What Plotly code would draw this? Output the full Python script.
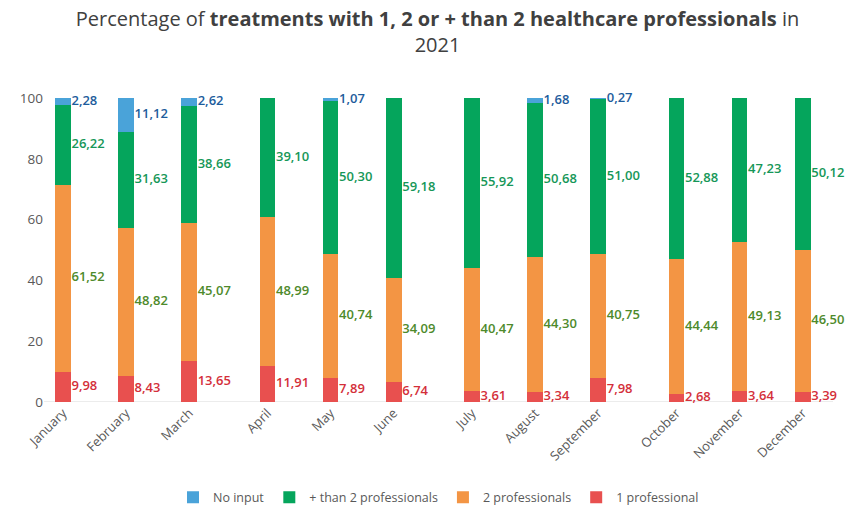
import plotly.graph_objects as go

# monthly shares (%) of treatments by number of healthcare professionals, 2021
months = ['January', 'February', 'March', 'April', 'May', 'June',
          'July', 'August', 'September', 'October', 'November', 'December']
one_prof = [9.98, 8.43, 13.65, 11.91, 7.89, 6.74, 3.61, 3.34, 7.98, 2.68, 3.64, 3.39]
two_prof = [61.52, 48.82, 45.07, 48.99, 40.74, 34.09, 40.47, 44.30, 40.75, 44.44, 49.13, 46.50]
more_prof = [26.22, 31.63, 38.66, 39.10, 50.30, 59.18, 55.92, 50.68, 51.00, 52.88, 47.23, 50.12]
no_input = [2.28, 11.12, 2.62, 0, 1.07, 0, 0, 1.68, 0.27, 0, 0, 0]

# bars are grouped by quarter in the original, with a slightly wider gap between quarters
xpos = [i + 0.24 * (i // 3) for i in range(len(months))]
bar_w = 0.25

series = [
    ('1 professional', one_prof, '#e8504f', '#d42f3a'),
    ('2 professionals', two_prof, '#f39544', '#4e8a2b'),
    ('+ than 2 professionals', more_prof, '#05a55c', '#169758'),
    ('No input', no_input, '#4aa3d9', '#1d5c9c'),
]

fig = go.Figure()

base = [0.0] * len(months)
for name, vals, color, lab_color in series:
    fig.add_trace(go.Bar(
        x=xpos, y=vals, name=name, width=bar_w,
        marker=dict(color=color, line=dict(width=0)),
    ))
    # value labels just to the right of each segment
    lx, ly, lt = [], [], []
    for i, v in enumerate(vals):
        if v > 0:
            lx.append(xpos[i] + bar_w / 2 + 0.01)
            ly.append(base[i] + v / 2)
            lt.append(f'{v:.2f}'.replace('.', ','))
    fig.add_trace(go.Scatter(
        x=lx, y=ly, text=lt, mode='text', textposition='middle right',
        textfont=dict(family='Open Sans', size=13, color=lab_color, weight=600),
        showlegend=False, hoverinfo='skip', cliponaxis=False,
    ))
    base = [b + v for b, v in zip(base, vals)]

fig.update_layout(
    barmode='stack',
    width=859, height=517,
    margin=dict(l=34, r=34, t=90, b=114),
    plot_bgcolor='white', paper_bgcolor='white',
    font=dict(family='Open Sans', color='#595959'),
    title=dict(
        text='Percentage of <b>treatments with 1, 2 or + than 2 healthcare professionals</b> in<br>2021',
        x=0.5, xanchor='center', y=0.965, yanchor='top',
        font=dict(family='Open Sans', size=20, color='#404040'),
    ),
    xaxis=dict(
        range=[-0.3, 12.2], tickvals=xpos, ticktext=months, tickangle=-45,
        showgrid=False, zeroline=False, showline=False,
        tickfont=dict(size=13, color='#595959'),
    ),
    yaxis=dict(
        range=[0, 100], dtick=20, showgrid=False, zeroline=False,
        showline=False, tickfont=dict(size=13.5, color='#595959'),
    ),
    legend=dict(
        orientation='h', traceorder='reversed', itemwidth=30,
        x=0.5, xanchor='center', y=-0.265, yanchor='top',
        font=dict(size=12.5, color='#595959'),
    ),
    bargap=0,
)
fig.add_shape(type='line', xref='paper', yref='y', x0=0, x1=1, y0=0, y1=0,
              line=dict(color='#d9d9d9', width=1), layer='below')

fig.write_html('out.html')
